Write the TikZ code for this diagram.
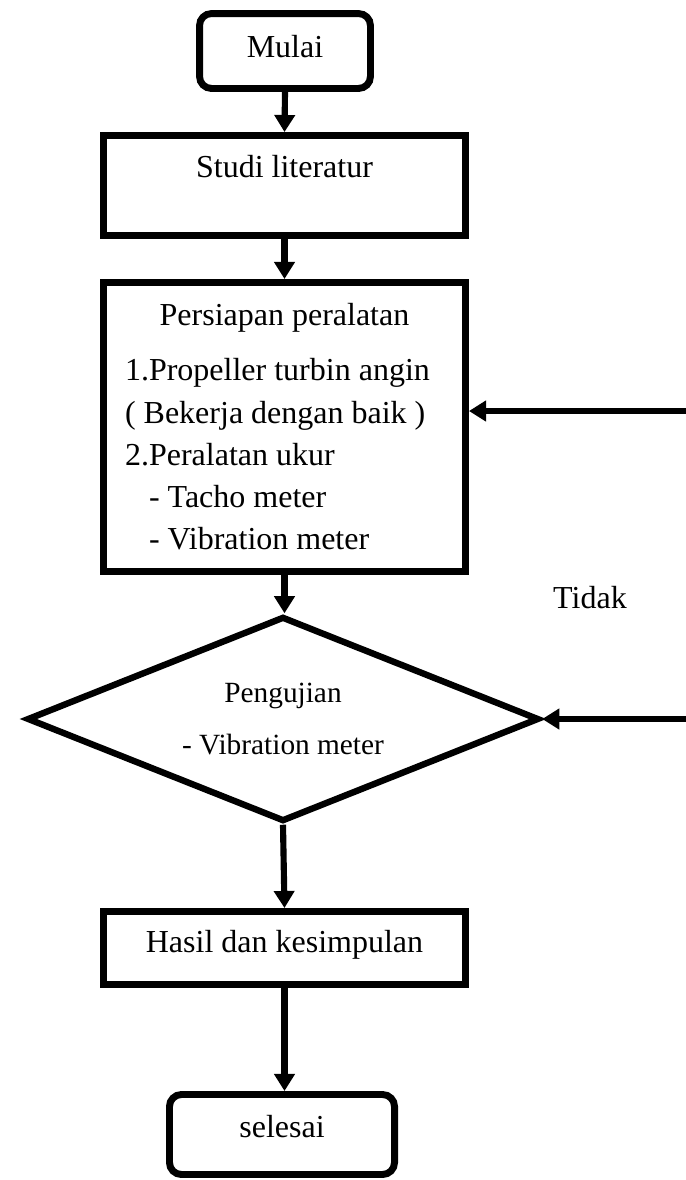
\documentclass[tikz,border=0pt]{standalone}
\usepackage{fontspec}
\setmainfont{Liberation Serif}
\usetikzlibrary{positioning, shapes.geometric, arrows.meta}

\begin{document}
\begin{tikzpicture}[x=0.375pt, y=-0.375pt,
        kotak/.style={draw, line width=2.6pt, inner sep=0pt, minimum width=135.75pt, font=\fontsize{12pt}{14pt}\selectfont},
        bulat/.style={kotak, rounded corners=4.5pt},
        belah/.style={draw, diamond, line width=2.4pt, inner sep=0pt, aspect=2.5, align=center},
        panah/.style={line width=2.3pt, -{Triangle[length=6.4pt, width=7.5pt]}}]
        \useasboundingbox (0,0) rectangle (686,1180);
        \node[bulat, minimum width=64.1pt, text height=16.3pt, text depth=11.8pt] (mulai) at (285,51) {Mulai};
        \node[kotak, text height=15.9pt, text depth=21.6pt] (studi) at (284.5,185.5) {Studi literatur};
        \node[kotak, minimum height=108.4pt, text width=119.6pt, align=left, font=\fontsize{12pt}{15.84pt}\selectfont] (alat) at (284.5,427) {\spaceskip=0pt\xspaceskip=0pt\makebox[\linewidth]{Persiapan peralatan}\\[4.8pt]
            1.Propeller turbin angin\\
            ( Bekerja dengan baik )\\
            2.Peralatan ukur\\
            \hspace*{9pt}- Tacho meter\\
            \hspace*{9pt}- Vibration meter};
        \node[belah, minimum width=192pt, minimum height=76.9pt, font=\fontsize{11pt}{19.5pt}\selectfont] (uji) at (283,719) {Pengujian\\- Vibration meter};
        \node[anchor=base, font=\fontsize{12pt}{14pt}\selectfont] (tidak) at (590,608) {Tidak};
        \node[kotak, text height=15.2pt, text depth=12.2pt] (hasil) at (284.5,948) {Hasil dan kesimpulan};
        \node[bulat, minimum width=84.4pt, text height=16.3pt, text depth=13.7pt] (selesai) at (282,1134.5) {selesai};
        % alur utama
        \draw[panah] (mulai.south) -- (studi.north);
        \draw[panah] (studi.south) -- (alat.north);
        \draw[panah] (alat.south) -- (alat.south |- uji.north);
        \draw[panah] (uji.south) -- (hasil.north);
        \draw[panah] (hasil.south) -- (hasil.south |- selesai.north);
        % umpan balik
        \coordinate (balik1) at (686,411);
        \coordinate (balik2) at (686,719);
        \draw[panah] (balik1) -- (balik1 -| alat.east);
        \draw[panah] (balik2) -- (uji.east);
    \end{tikzpicture}
\end{document}
